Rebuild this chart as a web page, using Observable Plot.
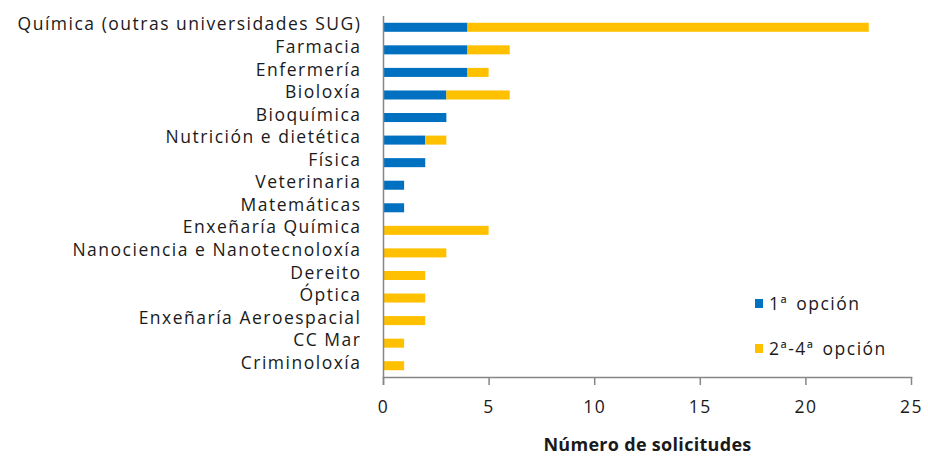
<!DOCTYPE html>
<html>
<head>
<meta charset="utf-8">
<script src="https://cdn.jsdelivr.net/npm/d3@7"></script>
<script src="https://cdn.jsdelivr.net/npm/@observablehq/plot@0.6"></script>
<style>
  html, body { margin: 0; padding: 0; background: #fff; }
  #wrap { position: relative; width: 928px; height: 457px; }
  svg { font-family: "Open Sans", sans-serif; letter-spacing: 1.5px; }
  [aria-label="x-axis label"] text, [aria-label="x-axis label"] { font-weight: bold; font-size: 18px; letter-spacing: 0.3px; }
  .legend { position: absolute; font-family: "Open Sans", sans-serif; font-size: 17.5px; letter-spacing: 1.5px; word-spacing: 2px; color: #1a1a1a; display: flex; align-items: center; line-height: 20px; }
  .legend span.sw { display: inline-block; width: 8px; height: 9px; margin-right: 6px; }
</style>
</head>
<body>
<div id="wrap"></div>
<script>
const categories = [
  "Química (outras universidades SUG)",
  "Farmacia",
  "Enfermería",
  "Bioloxía",
  "Bioquímica",
  "Nutrición e dietética",
  "Física",
  "Veterinaria",
  "Matemáticas",
  "Enxeñaría Química",
  "Nanociencia e Nanotecnoloxía",
  "Dereito",
  "Óptica",
  "Enxeñaría Aeroespacial",
  "CC Mar",
  "Criminoloxía"
];
const primeiraOpcion = [4, 4, 4, 3, 3, 2, 2, 1, 1, 0, 0, 0, 0, 0, 0, 0];
const outrasOpcions  = [19, 2, 1, 3, 0, 1, 0, 0, 0, 5, 3, 2, 2, 2, 1, 1];
const series = ["1ª opción", "2ª-4ª opción"];
const colors = ["#0070C0", "#FFC000"];
const xTicks = [0, 5, 10, 15, 20, 25];

const data = categories.flatMap((c, i) => [
  {cat: c, serie: series[0], v: primeiraOpcion[i]},
  {cat: c, serie: series[1], v: outrasOpcions[i]}
]);

const chart = Plot.plot({
  width: 928,
  height: 457,
  marginLeft: 383,
  marginRight: 17,
  marginTop: 16,
  marginBottom: 80,
  style: {fontSize: "17.5px", color: "#1a1a1a", background: "#fff"},
  x: {domain: [0, 25], ticks: xTicks, label: "Número de solicitudes"},
  y: {domain: categories, paddingInner: 0.6, paddingOuter: 0.3, round: false, label: null},
  color: {domain: series, range: colors},
  marks: [
    Plot.barX(data, Plot.stackX({x: "v", y: "cat", fill: "serie", order: series})),
    Plot.ruleX([0], {stroke: "#868686", strokeWidth: 1.5, insetBottom: -8}),
    Plot.frame({anchor: "bottom", stroke: "#868686", strokeWidth: 1.5}),
    Plot.axisY({tickSize: 0, tickPadding: 22, dy: -3, label: null, fill: "#1a1a1a"}),
    Plot.axisX({ticks: xTicks, tickSize: 8, tickPadding: 15, stroke: "#868686", strokeWidth: 1.5, fill: "#1a1a1a",
      label: "Número de solicitudes", labelAnchor: "center", labelArrow: "none", labelOffset: 73})
  ]
});
const wrap = document.getElementById("wrap");
wrap.appendChild(chart);

const legendPos = [{top: 293}, {top: 338}];
series.forEach((s, i) => {
  const d = document.createElement("div");
  d.className = "legend";
  d.style.left = "755px";
  d.style.top = legendPos[i].top + "px";
  d.innerHTML = `<span class="sw" style="background:${colors[i]}"></span>${s}`;
  wrap.appendChild(d);
});
</script>
</body>
</html>
